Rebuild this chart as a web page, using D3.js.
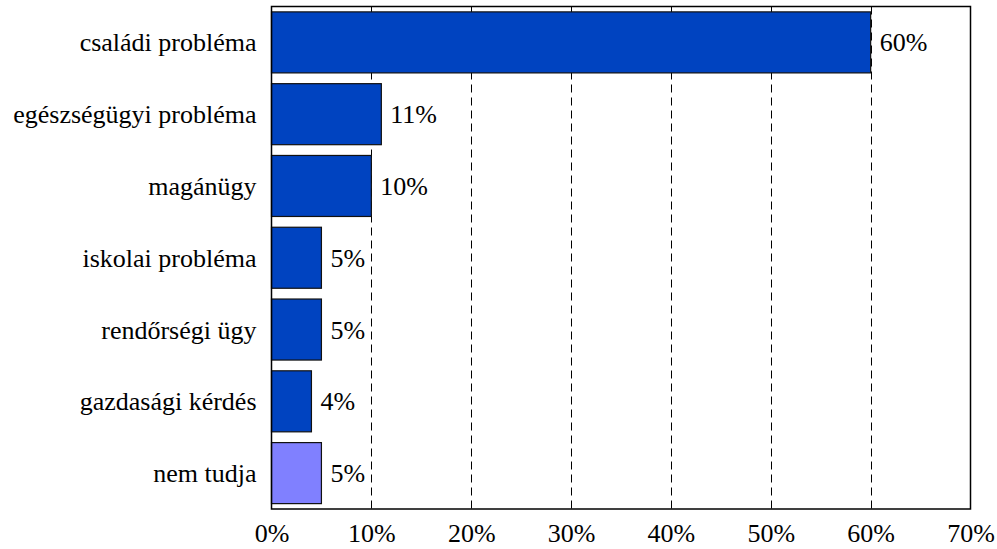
<!DOCTYPE html>
<html>
<head>
<meta charset="utf-8">
<script src="https://cdn.jsdelivr.net/npm/d3@7"></script>
<style>
  html, body { margin: 0; padding: 0; background: #fff; }
  svg { display: block; }
</style>
</head>
<body>
<svg id="chart" width="997" height="549"></svg>
<script>
const categories = ["családi probléma", "egészségügyi probléma", "magánügy", "iskolai probléma", "rendőrségi ügy", "gazdasági kérdés", "nem tudja"];
const values = [60, 11, 10, 5, 5, 4, 5];
const valueLabels = ["60%", "11%", "10%", "5%", "5%", "4%", "5%"];
const barColors = ["#0043c0", "#0043c0", "#0043c0", "#0043c0", "#0043c0", "#0043c0", "#8080ff"];
const tickValues = [0, 10, 20, 30, 40, 50, 60, 70];

const svg = d3.select("#chart");
const FONT = "Liberation Serif";
const FS = 26;
const margin = { left: 271.5, right: 26.5, top: 6.5, bottom: 40 };
const W = 997, H = 549;
const x0 = margin.left, x1 = W - margin.right;
const y0 = margin.top, y1 = H - margin.bottom;

const x = d3.scaleLinear().domain([0, 70]).range([x0, x1]);
const y = d3.scaleBand().domain(categories).range([y0, y1]).paddingInner(0.15).paddingOuter(0.075);

// dashed vertical gridlines
svg.append("g").selectAll("line")
  .data(tickValues.filter(v => v > 0 && v < 70))
  .join("line")
  .attr("x1", d => Math.round(x(d)) + 0.5).attr("x2", d => Math.round(x(d)) + 0.5)
  .attr("y1", y0).attr("y2", y1)
  .attr("stroke", "#000").attr("stroke-width", 1)
  .attr("stroke-dasharray", "8,5");

// bars
svg.append("g").selectAll("rect")
  .data(categories)
  .join("rect")
  .attr("x", x(0))
  .attr("y", d => y(d))
  .attr("width", (d, i) => x(values[i]) - x(0))
  .attr("height", y.bandwidth())
  .attr("fill", (d, i) => barColors[i])
  .attr("stroke", "#111")
  .attr("stroke-width", 1.2);

// value labels
svg.append("g").selectAll("text")
  .data(categories)
  .join("text")
  .attr("x", (d, i) => x(values[i]) + 9)
  .attr("y", d => y(d) + y.bandwidth() / 2)
  .attr("dy", "0.35em")
  .style("font-family", FONT)
  .style("font-size", FS + "px")
  .style("fill", "#000")
  .text((d, i) => valueLabels[i]);

// category labels
svg.append("g").selectAll("text")
  .data(categories)
  .join("text")
  .attr("x", x0 - 15)
  .attr("y", d => y(d) + y.bandwidth() / 2)
  .attr("dy", "0.35em")
  .attr("text-anchor", "end")
  .style("font-family", FONT)
  .style("font-size", FS + "px")
  .style("fill", "#000")
  .text(d => d);

// plot frame
svg.append("rect")
  .attr("x", x0).attr("y", y0)
  .attr("width", x1 - x0).attr("height", y1 - y0)
  .attr("fill", "none").attr("stroke", "#000").attr("stroke-width", 1.5);

// bottom axis
const axis = d3.axisBottom(x).tickValues(tickValues).tickSize(0).tickPadding(15).tickFormat(d => d + "%");
const gx = svg.append("g").attr("transform", `translate(0,${y1})`).call(axis);
gx.select(".domain").remove();
gx.selectAll("text")
  .style("font-family", FONT)
  .style("font-size", FS + "px")
  .style("fill", "#000");
</script>
</body>
</html>
